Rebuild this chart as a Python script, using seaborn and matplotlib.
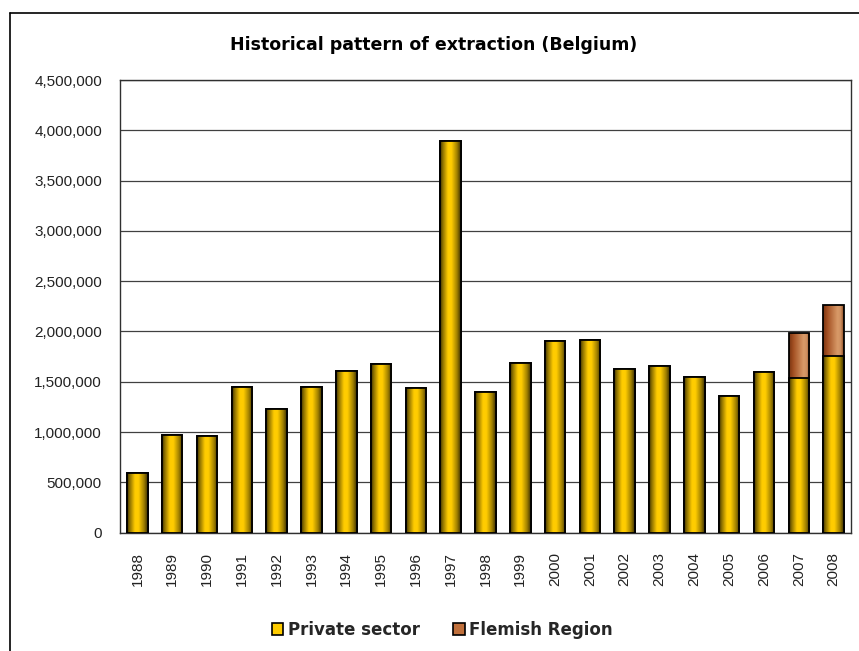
import numpy as np
import pandas as pd
import matplotlib
matplotlib.use("Agg")
import matplotlib.pyplot as plt
from matplotlib.colors import LinearSegmentedColormap
from matplotlib.patches import Patch
from matplotlib.lines import Line2D
from matplotlib.ticker import FuncFormatter, MultipleLocator
import seaborn as sns

# Extraction volumes per year
years = [str(y) for y in range(1988, 2009)]
private_sector = [590000, 967000, 957000, 1450000, 1229000, 1450000, 1603000,
                  1676000, 1440000, 3896000, 1395000, 1686000, 1905000, 1914000,
                  1623000, 1653000, 1550000, 1361000, 1593000, 1537000, 1759000]
flemish_region = [0] * 19 + [450000, 507000]

df = pd.DataFrame({"year": years,
                   "private": private_sector,
                   "flemish": flemish_region})
df["total"] = df["private"] + df["flemish"]

GOLD = "#ffcc00"
BROWN = "#c0703c"

sns.set_theme(style="white")
plt.rcParams["font.family"] = ["Liberation Sans", "DejaVu Sans"]

fig = plt.figure(figsize=(8.59, 6.51), dpi=100)
ax = fig.add_axes([120 / 859, 1 - 532.6 / 651, 731 / 859, (532.6 - 80) / 651])

bar_kw = dict(width=0.59, edgecolor="black", linewidth=1.3, saturation=1,
              errorbar=None, ax=ax)
# stacked look: totals (Flemish on top) first, private sector drawn over them
sns.barplot(data=df, x="year", y="total", color=BROWN, **bar_kw)
sns.barplot(data=df, x="year", y="private", color=GOLD, **bar_kw)

gold_cmap = LinearSegmentedColormap.from_list(
    "gold", [(0.0, "#3d3000"), (0.12, "#8a6e00"), (0.38, "#ffcc00"),
             (0.55, "#ffcc00"), (0.82, "#a08000"), (1.0, "#3d3000")])
brown_cmap = LinearSegmentedColormap.from_list(
    "brown", [(0.0, "#7a3512"), (0.2, "#a34f22"), (0.7, "#d89a68"),
              (0.85, "#cf9060"), (1.0, "#8a4a22")])

grad = np.linspace(0, 1, 64).reshape(1, -1)
n = len(years)
for i, p in enumerate(ax.patches):
    x0, y0 = p.get_x(), p.get_y()
    w, h = p.get_width(), p.get_height()
    stack_layer = 0 if i < n else 1
    cmap = brown_cmap if stack_layer == 0 else gold_cmap
    base_z = 2 + stack_layer
    if h > 0:
        ax.imshow(grad, cmap=cmap, extent=[x0, x0 + w, y0, y0 + h],
                  aspect="auto", interpolation="bilinear", zorder=base_z)
    p.set_facecolor("none")
    p.set_zorder(base_z + 0.5)

ax.set_xlim(-0.5, n - 0.5)
ax.set_ylim(0, 4500000)
ax.yaxis.set_major_locator(MultipleLocator(500000))
ax.yaxis.set_major_formatter(FuncFormatter(lambda v, _: f"{int(v):,}"))
ax.yaxis.grid(True, color="#404040", linewidth=0.9)
ax.set_axisbelow(True)
ax.set_xlabel("")
ax.set_ylabel("")
ax.tick_params(axis="y", length=0, pad=13, labelsize=11, labelcolor="#222222")
ax.tick_params(axis="x", length=0, pad=14, labelsize=11, labelcolor="#222222",
               labelrotation=90)
for s in ax.spines.values():
    s.set_color("#303030")
    s.set_linewidth(1.0)

fig.text(0.505, 1 - 45 / 651, "Historical pattern of extraction (Belgium)",
         ha="center", va="center", fontsize=12.5, fontweight="bold",
         color="black", family=["DejaVu Sans"])

handles = [Patch(facecolor=GOLD, edgecolor="black", linewidth=1.2, label="Private sector"),
           Patch(facecolor=BROWN, edgecolor="black", linewidth=1.2, label="Flemish Region")]
fig.legend(handles=handles, loc="center", bbox_to_anchor=(442 / 859, 1 - 630 / 651),
           ncol=2, frameon=False, handlelength=0.7, handleheight=0.7,
           handletextpad=0.25, columnspacing=2.0,
           prop={"weight": "bold", "size": 12, "family": ["DejaVu Sans"]})

# chart frame
fig.add_artist(Line2D([10 / 859, 10 / 859], [0, 1 - 13 / 651],
                      transform=fig.transFigure, color="black", linewidth=1.2))
fig.add_artist(Line2D([10 / 859, 1], [1 - 13 / 651, 1 - 13 / 651],
                      transform=fig.transFigure, color="black", linewidth=1.2))

fig.savefig("out.png", dpi=100, facecolor="white")
